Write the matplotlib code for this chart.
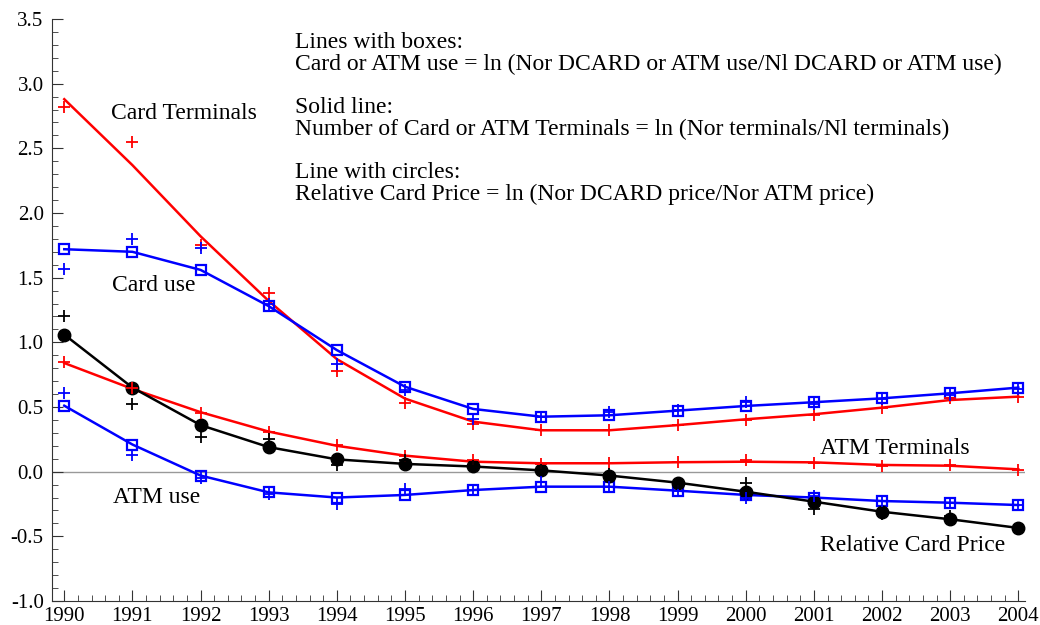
import numpy as np
import matplotlib
matplotlib.use("Agg")
import matplotlib.pyplot as plt
from matplotlib.ticker import MultipleLocator, FormatStrFormatter

plt.rcParams['font.family'] = ['Liberation Serif', 'DejaVu Serif']
plt.rcParams['axes.unicode_minus'] = False

years = list(range(1990, 2005))

# Card terminals (red, fitted line + raw points)
card_term_fit = [2.88, 2.37, 1.82, 1.32, 0.87, 0.565, 0.387, 0.32, 0.32, 0.36, 0.405, 0.444, 0.495, 0.554, 0.58]
card_term_raw = [2.82, 2.55, 1.75, 1.38, 0.78, 0.53, 0.37, 0.32, 0.32, 0.36, 0.40, 0.44, 0.49, 0.57, 0.58]

# ATM terminals (red)
atm_term_fit = [0.84, 0.64, 0.46, 0.31, 0.20, 0.124, 0.077, 0.065, 0.065, 0.073, 0.077, 0.072, 0.052, 0.046, 0.018]
atm_term_raw = [0.85, 0.65, 0.45, 0.31, 0.21, 0.12, 0.09, 0.06, 0.065, 0.075, 0.09, 0.07, 0.044, 0.055, 0.015]

# Card use (blue boxes)
card_use_fit = [1.72, 1.70, 1.56, 1.28, 0.94, 0.657, 0.485, 0.425, 0.436, 0.472, 0.508, 0.537, 0.567, 0.606, 0.65]
card_use_raw = [1.57, 1.80, 1.73, 1.30, 0.83, 0.63, 0.41, 0.42, 0.46, 0.48, 0.54, 0.52, 0.56, 0.59, 0.64]

# ATM use (blue boxes)
atm_use_fit = [0.51, 0.21, -0.03, -0.16, -0.20, -0.18, -0.142, -0.116, -0.116, -0.147, -0.18, -0.20, -0.227, -0.24, -0.258]
atm_use_raw = [0.61, 0.13, -0.05, -0.17, -0.25, -0.137, -0.142, -0.077, -0.116, -0.15, -0.20, -0.19, -0.23, -0.24, -0.258]

# Relative card price (black circles)
price_fit = [1.06, 0.65, 0.36, 0.19, 0.095, 0.06, 0.04, 0.01, -0.03, -0.085, -0.155, -0.232, -0.31, -0.368, -0.435]
price_raw = [1.20, 0.52, 0.27, 0.25, 0.05, 0.09, 0.04, 0.01, -0.02, -0.085, -0.09, -0.29, -0.33, -0.34, -0.435]

fig = plt.figure(figsize=(10.4, 6.25), dpi=100)
ax = fig.add_axes([0.05, 0.0384, 0.9357, 0.9312])

ax.axhline(0, color='#999999', lw=1, zorder=1)

ax.plot(years, card_term_fit, color='red', lw=1.8, zorder=3)
ax.plot(years, card_term_raw, '+', color='red', ms=8, mew=1.3, zorder=4)
ax.plot(years, atm_term_fit, color='red', lw=1.8, zorder=3)
ax.plot(years, atm_term_raw, '+', color='red', ms=8, mew=1.3, zorder=4)

ax.plot(years, card_use_fit, color='blue', lw=1.8, marker='s', ms=7, mfc='none', mew=1.6, zorder=3)
ax.plot(years, card_use_raw, '+', color='blue', ms=8, mew=1.3, zorder=4)
ax.plot(years, atm_use_fit, color='blue', lw=1.8, marker='s', ms=7, mfc='none', mew=1.6, zorder=3)
ax.plot(years, atm_use_raw, '+', color='blue', ms=8, mew=1.3, zorder=4)

ax.plot(years, price_fit, color='black', lw=1.8, marker='o', ms=9, zorder=3)
ax.plot(years, price_raw, '+', color='black', ms=8, mew=1.3, zorder=4)

ax.set_xlim(1989.82, 2004.1)
ax.set_ylim(-1.0, 3.5)
ax.set_xticks(years)
ax.xaxis.set_minor_locator(MultipleLocator(0.2))
ax.yaxis.set_major_locator(MultipleLocator(0.5))
ax.yaxis.set_minor_locator(MultipleLocator(0.1))
ax.yaxis.set_major_formatter(FormatStrFormatter('%.1f'))
ax.tick_params(which='both', direction='in', labelsize=15, color='#333333')
ax.tick_params(which='major', length=8)
ax.tick_params(which='minor', length=4)
ax.tick_params(axis='x', pad=4)
ax.tick_params(axis='y', pad=6)
for s in ['top', 'right']:
    ax.spines[s].set_visible(False)
for s in ['left', 'bottom']:
    ax.spines[s].set_color('#333333')

fs = 17
ax.text(1990.68, 2.77, 'Card Terminals', fontsize=fs, va='center')
ax.text(1990.70, 1.44, 'Card use', fontsize=fs, va='center')
ax.text(1990.72, -0.20, 'ATM use', fontsize=fs, va='center')
ax.text(2001.09, 0.18, 'ATM Terminals', fontsize=fs, va='center')
ax.text(2001.09, -0.57, 'Relative Card Price', fontsize=fs, va='center')

note = ("Lines with boxes:\n"
        "Card or ATM use = ln (Nor DCARD or ATM use/Nl DCARD or ATM use)\n"
        "\n"
        "Solid line:\n"
        "Number of Card or ATM Terminals = ln (Nor terminals/Nl terminals)\n"
        "\n"
        "Line with circles:\n"
        "Relative Card Price = ln (Nor DCARD price/Nor ATM price)")
ax.text(1993.38, 3.40, note, fontsize=fs, va='top', linespacing=1.04)

fig.savefig("out.png", dpi=100)
